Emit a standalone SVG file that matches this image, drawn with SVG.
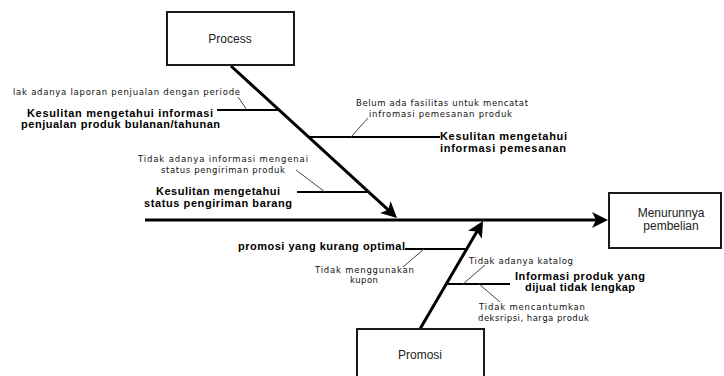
<svg xmlns="http://www.w3.org/2000/svg" width="724" height="376" viewBox="0 0 724 376">
<defs>
<style>
.box{fill:#fff;stroke:#1a1a1a;stroke-width:2}
.bt{font-family:"Liberation Sans",Arial,sans-serif;font-size:12px;fill:#222;text-anchor:middle}
.cause{font-family:"Liberation Sans",Arial,sans-serif;font-size:11px;font-weight:bold;fill:#000}
.sub{font-family:"DejaVu Sans","Liberation Sans",sans-serif;font-size:8.5px;fill:#111}
.bone{stroke:#000;stroke-width:3;fill:none}
.branch{stroke:#000;stroke-width:2;fill:none}
.tick{stroke:#444;stroke-width:1;fill:none}
</style>
<marker id="arr" viewBox="0 0 16 16" refX="10" refY="8" markerWidth="16" markerHeight="16" markerUnits="userSpaceOnUse" orient="auto">
<path d="M0,0 L16,8 L0,16 L4,8 Z" fill="#000"/>
</marker>
</defs>
<rect width="724" height="376" fill="#fff"/>

<g id="connectors">
<line class="bone" x1="145" y1="220" x2="602" y2="220" marker-end="url(#arr)"/>
<line class="bone" x1="231" y1="66" x2="392.6" y2="213.9" marker-end="url(#arr)"/>
<line class="bone" x1="420" y1="329" x2="480" y2="226.2" marker-end="url(#arr)"/>
<line class="branch" x1="217" y1="110" x2="279" y2="110"/>
<line class="branch" x1="308" y1="137" x2="440" y2="137"/>
<line class="branch" x1="297" y1="192" x2="367" y2="192"/>
<line class="branch" x1="405" y1="249" x2="467" y2="249"/>
<line class="branch" x1="446" y1="284" x2="510" y2="284"/>
<line class="tick" x1="247" y1="110" x2="238" y2="97"/>
<line class="tick" x1="351" y1="137" x2="368" y2="118"/>
<line class="tick" x1="325" y1="192" x2="296" y2="170"/>
<line class="tick" x1="424" y1="249" x2="403" y2="267"/>
<line class="tick" x1="463" y1="284" x2="485" y2="265"/>
<line class="tick" x1="479" y1="284" x2="500" y2="302"/>
</g>

<g id="process">
<rect class="box" x="167" y="12" width="127" height="53"/>
<text class="bt" x="230" y="43">Process</text>
</g>

<g id="promosi">
<rect class="box" x="357" y="329" width="127" height="60"/>
<text class="bt" x="420" y="359">Promosi</text>
</g>

<g id="effect">
<rect class="box" x="609" y="193" width="112" height="55"/>
<text class="bt" x="671" y="217">Menurunnya</text>
<text class="bt" x="671" y="230">pembelian</text>
</g>

<g id="cause-penjualan">
<text class="sub" x="13" y="95" textLength="227" lengthAdjust="spacing">lak adanya laporan penjualan dengan periode</text>
<text class="cause" x="27" y="117" textLength="186" lengthAdjust="spacing">Kesulitan mengetahui informasi</text>
<text class="cause" x="21" y="128" textLength="199" lengthAdjust="spacing">penjualan produk bulanan/tahunan</text>
</g>

<g id="cause-pemesanan">
<text class="sub" x="356" y="106" textLength="172" lengthAdjust="spacing">Belum ada fasilitas untuk mencatat</text>
<text class="sub" x="369" y="117" textLength="143" lengthAdjust="spacing">infromasi pemesanan produk</text>
<text class="cause" x="440" y="140" textLength="127" lengthAdjust="spacing">Kesulitan mengetahui</text>
<text class="cause" x="440" y="152" textLength="126" lengthAdjust="spacing">informasi pemesanan</text>
</g>

<g id="cause-pengiriman">
<text class="sub" x="138" y="162" textLength="170" lengthAdjust="spacing">Tidak adanya informasi mengenai</text>
<text class="sub" x="161" y="173" textLength="124" lengthAdjust="spacing">status pengiriman produk</text>
<text class="cause" x="156" y="195" textLength="124" lengthAdjust="spacing">Kesulitan mengetahui</text>
<text class="cause" x="144" y="207" textLength="148" lengthAdjust="spacing">status pengiriman barang</text>
</g>

<g id="cause-promosi">
<text class="cause" x="238" y="250" textLength="167" lengthAdjust="spacing">promosi yang kurang optimal</text>
<text class="sub" x="315" y="273" textLength="99" lengthAdjust="spacing">Tidak menggunakan</text>
<text class="sub" x="350" y="283" textLength="28" lengthAdjust="spacing">kupon</text>
</g>

<g id="cause-informasi">
<text class="sub" x="469" y="264" textLength="104" lengthAdjust="spacing">Tidak adanya katalog</text>
<text class="cause" x="515" y="280" textLength="130" lengthAdjust="spacing">Informasi produk yang</text>
<text class="cause" x="525" y="291" textLength="110" lengthAdjust="spacing">dijual tidak lengkap</text>
<text class="sub" x="479" y="310" textLength="106" lengthAdjust="spacing">Tidak mencantumkan</text>
<text class="sub" x="478" y="321" textLength="111" lengthAdjust="spacing">deksripsi, harga produk</text>
</g>
</svg>
